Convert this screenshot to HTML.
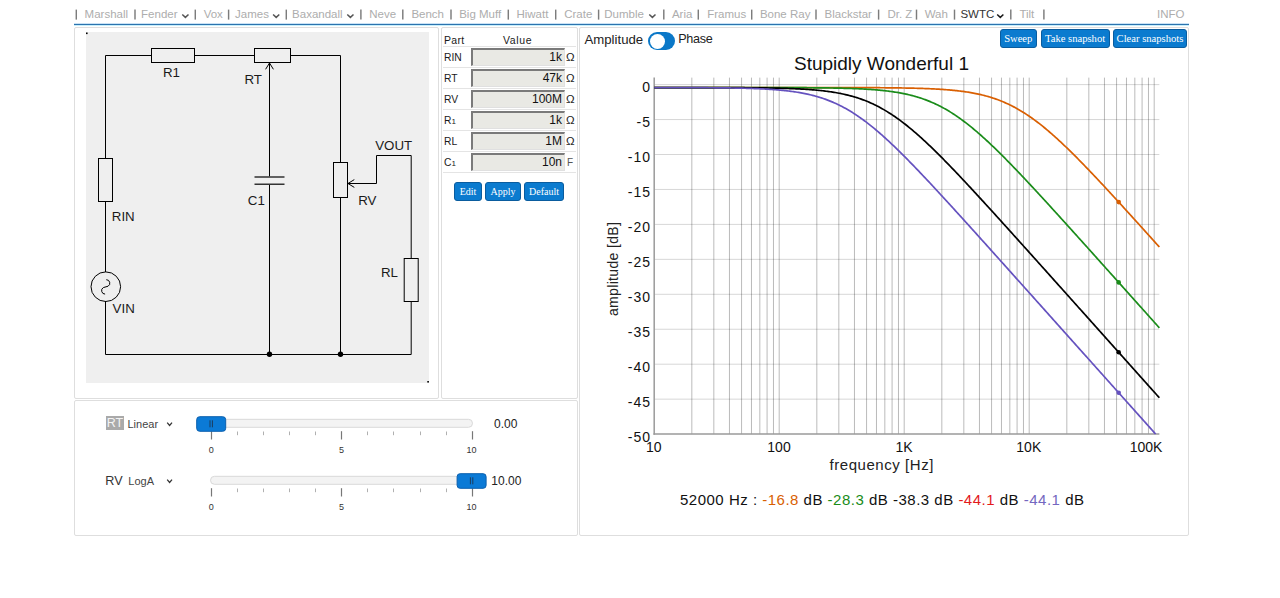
<!DOCTYPE html>
<html><head><meta charset="utf-8"><title>SWTC</title>
<style>
*{box-sizing:border-box;margin:0;padding:0}
html,body{width:1280px;height:598px;overflow:hidden;background:#fff}
body{position:relative;font-family:"Liberation Sans",sans-serif;color:#222}
.a{position:absolute}
.nav{position:absolute;top:7px;font-size:11.5px;color:#adadad;white-space:nowrap;line-height:14px}
.sep{position:absolute;top:9.6px;width:1.4px;height:10px;background:#666}
.chev{position:absolute;top:11px;width:5px;height:5px;border-right:1.6px solid #555;border-bottom:1.6px solid #555;transform:rotate(45deg)}
.box{position:absolute;border:1px solid #dedede;border-radius:2px;background:#fff}
.btn{position:absolute;background:#0b7bcf;border:1px solid #0a5c9e;border-radius:3px;color:#fff;font-family:"Liberation Serif",serif;text-align:center;white-space:nowrap}
.tl{position:absolute;left:444px;font-size:10.3px;color:#1a1a1a;line-height:12px}
.inp{position:absolute;left:471px;width:94px;height:18px;background:#e9e9e4;border-style:solid;border-width:2px 1px 1px 2px;border-color:#7a7a7a #e0e0e0 #e0e0e0 #7a7a7a;font-size:12px;text-align:right;padding-right:2px;line-height:15px;color:#111}
.unit{position:absolute;left:566px;font-size:11.5px;color:#222;line-height:12px}
.hr{position:absolute;left:443px;width:133px;height:1px;background:#e4e4e4}
</style></head><body>
<div class="nav" style="left:84.6px;color:#adadad">Marshall</div>
<div class="nav" style="left:141.1px;color:#adadad">Fender</div>
<div class="nav" style="left:203.7px;color:#adadad">Vox</div>
<div class="nav" style="left:235.1px;color:#adadad">James</div>
<div class="nav" style="left:292.1px;color:#adadad">Baxandall</div>
<div class="nav" style="left:369.2px;color:#adadad">Neve</div>
<div class="nav" style="left:411.4px;color:#adadad">Bench</div>
<div class="nav" style="left:459.2px;color:#adadad">Big Muff</div>
<div class="nav" style="left:516.4px;color:#adadad">Hiwatt</div>
<div class="nav" style="left:564.2px;color:#adadad">Crate</div>
<div class="nav" style="left:604.3px;color:#adadad">Dumble</div>
<div class="nav" style="left:671.9px;color:#adadad">Aria</div>
<div class="nav" style="left:707.2px;color:#adadad">Framus</div>
<div class="nav" style="left:759.9px;color:#adadad">Bone Ray</div>
<div class="nav" style="left:824.6px;color:#adadad">Blackstar</div>
<div class="nav" style="left:887.4px;color:#adadad">Dr. Z</div>
<div class="nav" style="left:924.7px;color:#adadad">Wah</div>
<div class="nav" style="left:960.4px;color:#333">SWTC</div>
<div class="nav" style="left:1019.4px;color:#adadad">Tilt</div>
<div class="nav" style="left:1157px;color:#adadad">INFO</div>
<div class="a" style="left:74px;top:23px;width:1115px;height:3px;background:linear-gradient(#c9e2f5 0,#c9e2f5 1px,#2c73ae 1px,#2c73ae 2px,#c6eefb 2px)"></div>
<div class="box" style="left:74px;top:27px;width:365px;height:372px"></div>
<div class="box" style="left:441px;top:27px;width:137px;height:372px"></div>
<div class="box" style="left:74px;top:400px;width:504px;height:136px"></div>
<div class="box" style="left:579px;top:27px;width:610px;height:509px"></div>
<div class="tl" style="top:34px;font-size:10.5px;letter-spacing:0.3px">Part</div><div class="tl" style="top:34px;left:503px;font-size:10.5px;letter-spacing:0.6px">Value</div>
<div class="hr" style="top:46px"></div>
<div class="tl" style="top:52px">RIN</div>
<div class="inp" style="top:48px">1k</div>
<div class="unit" style="top:51px;">Ω</div>
<div class="hr" style="top:67px"></div>
<div class="tl" style="top:73px">RT</div>
<div class="inp" style="top:69px">47k</div>
<div class="unit" style="top:72px;">Ω</div>
<div class="hr" style="top:88px"></div>
<div class="tl" style="top:94px">RV</div>
<div class="inp" style="top:90px">100M</div>
<div class="unit" style="top:93px;">Ω</div>
<div class="hr" style="top:109px"></div>
<div class="tl" style="top:115px">R<span style="font-size:8px">1</span></div>
<div class="inp" style="top:111px">1k</div>
<div class="unit" style="top:114px;">Ω</div>
<div class="hr" style="top:130px"></div>
<div class="tl" style="top:136px">RL</div>
<div class="inp" style="top:132px">1M</div>
<div class="unit" style="top:135px;">Ω</div>
<div class="hr" style="top:151px"></div>
<div class="tl" style="top:157px">C<span style="font-size:8px">1</span></div>
<div class="inp" style="top:153px">10n</div>
<div class="unit" style="top:156px;font-size:10px;color:#555;left:567px;top:157px">F</div>
<div class="hr" style="top:172px"></div>
<div class="btn" style="left:454px;top:182px;width:28px;height:19px;font-size:10px;line-height:17px">Edit</div>
<div class="btn" style="left:485px;top:182px;width:36px;height:19px;font-size:10px;line-height:17px">Apply</div>
<div class="btn" style="left:524px;top:182px;width:40px;height:19px;font-size:10px;line-height:17px">Default</div>
<div class="a" style="left:106px;top:416px;width:18px;height:14px;background:#aaa;color:#f4f4f4;font-size:12.5px;line-height:14px;text-align:center">RT</div>
<div class="a" style="left:127.5px;top:417.5px;font-size:11px;color:#444;line-height:13px">Linear</div>
<div class="a" style="left:494px;top:416.5px;font-size:12px;color:#222;line-height:14px">0.00</div>
<div class="a" style="left:105.3px;top:474px;font-size:12.6px;color:#333;line-height:15px">RV</div>
<div class="a" style="left:128.3px;top:474.5px;font-size:11px;color:#444;line-height:13px">LogA</div>
<div class="a" style="left:491.3px;top:473.5px;font-size:12px;color:#222;line-height:14px">10.00</div>

<div class="a" style="left:584.5px;top:31.5px;font-size:13.2px;color:#222;line-height:15px">Amplitude</div>
<div class="a" style="left:647.6px;top:31.8px;width:27.4px;height:18.6px;border-radius:9.3px;background:#0b78c8"></div>
<div class="a" style="left:649.6px;top:33.5px;width:15.4px;height:15.4px;border-radius:50%;background:#fff"></div>
<div class="a" style="left:678.2px;top:31.5px;font-size:12.6px;letter-spacing:-0.3px;color:#222;line-height:15px">Phase</div>
<div class="btn" style="left:999.5px;top:29.3px;width:37.5px;height:18.5px;font-size:10.6px;line-height:18px">Sweep</div>
<div class="btn" style="left:1040.6px;top:29.3px;width:69px;height:18.5px;font-size:10.6px;line-height:18px">Take snapshot</div>
<div class="btn" style="left:1113px;top:29.3px;width:74px;height:18.5px;font-size:10.6px;line-height:18px">Clear snapshots</div>
<div class="a" style="left:794px;top:53px;font-size:19px;color:#111;line-height:22px;white-space:nowrap">Stupidly Wonderful 1</div>
<div class="a" style="left:680px;top:491px;font-size:15px;letter-spacing:0.5px;color:#111;line-height:18px;white-space:nowrap">52000 Hz : <span style="color:#d95f02">-16.8</span> dB <span style="color:#1a8c1a">-28.3</span> dB -38.3 dB <span style="color:#e31a1c">-44.1</span> dB <span style="color:#7467c0">-44.1</span> dB</div>

<svg class="a" style="left:0;top:0" width="1280" height="598" viewBox="0 0 1280 598">
<g stroke="#7c7c7c" stroke-width="1.45"><line x1="76.3" y1="9.6" x2="76.3" y2="19.6"/><line x1="135.0" y1="9.6" x2="135.0" y2="19.6"/><line x1="195.3" y1="9.6" x2="195.3" y2="19.6"/><line x1="228.6" y1="9.6" x2="228.6" y2="19.6"/><line x1="286.3" y1="9.6" x2="286.3" y2="19.6"/><line x1="360.9" y1="9.6" x2="360.9" y2="19.6"/><line x1="402.8" y1="9.6" x2="402.8" y2="19.6"/><line x1="451.0" y1="9.6" x2="451.0" y2="19.6"/><line x1="508.3" y1="9.6" x2="508.3" y2="19.6"/><line x1="555.7" y1="9.6" x2="555.7" y2="19.6"/><line x1="598.6" y1="9.6" x2="598.6" y2="19.6"/><line x1="663.8" y1="9.6" x2="663.8" y2="19.6"/><line x1="698.3" y1="9.6" x2="698.3" y2="19.6"/><line x1="751.7" y1="9.6" x2="751.7" y2="19.6"/><line x1="816.0" y1="9.6" x2="816.0" y2="19.6"/><line x1="878.6" y1="9.6" x2="878.6" y2="19.6"/><line x1="916.5" y1="9.6" x2="916.5" y2="19.6"/><line x1="954.5" y1="9.6" x2="954.5" y2="19.6"/><line x1="1010.8" y1="9.6" x2="1010.8" y2="19.6"/><line x1="1043.9" y1="9.6" x2="1043.9" y2="19.6"/></g><g stroke-width="1.5" fill="none"><path stroke="#555" d="M182.3,14.5 L185.4,17.4 L188.5,14.5"/><path stroke="#555" d="M273.1,14.5 L276.2,17.4 L279.3,14.5"/><path stroke="#555" d="M347.3,14.5 L350.4,17.4 L353.5,14.5"/><path stroke="#555" d="M649.3,14.5 L652.4,17.4 L655.5,14.5"/><path stroke="#1a1a1a" d="M997.2,14.5 L1000.3,17.4 L1003.4,14.5"/></g><g stroke="#333" stroke-width="1.3" fill="none"><path d="M167.2,422.6 L169.6,425.4 L172,422.6"/><path d="M167.2,479.6 L169.6,482.4 L172,479.6"/></g>

<rect x="86" y="32" width="343" height="351" fill="#efefef"/>
<rect x="86" y="32.5" width="1.6" height="1.6" fill="#000"/>
<rect x="427.3" y="381" width="1.6" height="1.6" fill="#000"/>
<g stroke="#000" stroke-width="1" fill="none">
<path d="M105.5,158.5 V55.5 H151.5 M194.5,55.5 H254.5 M290.5,55.5 H340.5 V162.5"/>
<path d="M105.5,201.5 V272"/>
<path d="M105.5,301 V354.5 H411.2 V301.5"/>
<path d="M340.5,197.5 V354.5"/>
<path d="M269.5,63 V176.5 M269.5,184.5 V354.5"/>
<path d="M411.2,258.5 V155.5 H376.5 V183.5 H348"/>
<rect x="151.5" y="48.5" width="43" height="14"/>
<rect x="254.5" y="48.5" width="36" height="14"/>
<rect x="98.5" y="158.5" width="14" height="43"/>
<rect x="333.5" y="162.5" width="14" height="35"/>
<rect x="404.2" y="258.5" width="14" height="43"/>
<circle cx="105.8" cy="286.7" r="14.8"/>
<path d="M265.6,69.3 L269.5,63 L273.4,69.3"/>
<path d="M354.3,179.6 L348,183.5 L354.3,187.4"/>
<path d="M106.3,279.7 A3.5,3.5 0 0 1 108.05,286.23 L103.35,287.57 A3.5,3.5 0 0 0 105.1,294.1"/>
</g>
<g stroke="#333" stroke-width="1.6">
<path d="M254.5,177 H284.5 M254.5,184.3 H284.5"/>
</g>
<circle cx="269.5" cy="354.3" r="2.7" fill="#000"/>
<circle cx="340.5" cy="354.3" r="2.7" fill="#000"/>
<g font-family="Liberation Sans, sans-serif" font-size="13.3" fill="#1a1a1a">
<text x="163" y="77">R1</text>
<text x="244.4" y="83.6">RT</text>
<text x="247.8" y="204.9">C1</text>
<text x="358.2" y="204.6">RV</text>
<text x="375.2" y="150.2">VOUT</text>
<text x="111.8" y="221.1">RIN</text>
<text x="112.6" y="313.2">VIN</text>
<text x="381" y="277.3">RL</text>
</g>


<g class="grid"><line x1="691.83" y1="77.61" x2="691.83" y2="434.10" stroke="#000" stroke-opacity="0.27" stroke-width="1"/>
<line x1="713.84" y1="77.61" x2="713.84" y2="434.10" stroke="#000" stroke-opacity="0.27" stroke-width="1"/>
<line x1="729.46" y1="77.61" x2="729.46" y2="434.10" stroke="#000" stroke-opacity="0.27" stroke-width="1"/>
<line x1="741.57" y1="77.61" x2="741.57" y2="434.10" stroke="#000" stroke-opacity="0.27" stroke-width="1"/>
<line x1="751.47" y1="77.61" x2="751.47" y2="434.10" stroke="#000" stroke-opacity="0.27" stroke-width="1"/>
<line x1="759.84" y1="77.61" x2="759.84" y2="434.10" stroke="#000" stroke-opacity="0.27" stroke-width="1"/>
<line x1="767.09" y1="77.61" x2="767.09" y2="434.10" stroke="#000" stroke-opacity="0.27" stroke-width="1"/>
<line x1="773.48" y1="77.61" x2="773.48" y2="434.10" stroke="#000" stroke-opacity="0.27" stroke-width="1"/>
<line x1="779.20" y1="77.61" x2="779.20" y2="434.10" stroke="#000" stroke-opacity="0.27" stroke-width="1"/>
<line x1="816.83" y1="77.61" x2="816.83" y2="434.10" stroke="#000" stroke-opacity="0.27" stroke-width="1"/>
<line x1="838.84" y1="77.61" x2="838.84" y2="434.10" stroke="#000" stroke-opacity="0.27" stroke-width="1"/>
<line x1="854.46" y1="77.61" x2="854.46" y2="434.10" stroke="#000" stroke-opacity="0.27" stroke-width="1"/>
<line x1="866.57" y1="77.61" x2="866.57" y2="434.10" stroke="#000" stroke-opacity="0.27" stroke-width="1"/>
<line x1="876.47" y1="77.61" x2="876.47" y2="434.10" stroke="#000" stroke-opacity="0.27" stroke-width="1"/>
<line x1="884.84" y1="77.61" x2="884.84" y2="434.10" stroke="#000" stroke-opacity="0.27" stroke-width="1"/>
<line x1="892.09" y1="77.61" x2="892.09" y2="434.10" stroke="#000" stroke-opacity="0.27" stroke-width="1"/>
<line x1="898.48" y1="77.61" x2="898.48" y2="434.10" stroke="#000" stroke-opacity="0.27" stroke-width="1"/>
<line x1="904.20" y1="77.61" x2="904.20" y2="434.10" stroke="#000" stroke-opacity="0.27" stroke-width="1"/>
<line x1="941.83" y1="77.61" x2="941.83" y2="434.10" stroke="#000" stroke-opacity="0.27" stroke-width="1"/>
<line x1="963.84" y1="77.61" x2="963.84" y2="434.10" stroke="#000" stroke-opacity="0.27" stroke-width="1"/>
<line x1="979.46" y1="77.61" x2="979.46" y2="434.10" stroke="#000" stroke-opacity="0.27" stroke-width="1"/>
<line x1="991.57" y1="77.61" x2="991.57" y2="434.10" stroke="#000" stroke-opacity="0.27" stroke-width="1"/>
<line x1="1001.47" y1="77.61" x2="1001.47" y2="434.10" stroke="#000" stroke-opacity="0.27" stroke-width="1"/>
<line x1="1009.84" y1="77.61" x2="1009.84" y2="434.10" stroke="#000" stroke-opacity="0.27" stroke-width="1"/>
<line x1="1017.09" y1="77.61" x2="1017.09" y2="434.10" stroke="#000" stroke-opacity="0.27" stroke-width="1"/>
<line x1="1023.48" y1="77.61" x2="1023.48" y2="434.10" stroke="#000" stroke-opacity="0.27" stroke-width="1"/>
<line x1="1029.20" y1="77.61" x2="1029.20" y2="434.10" stroke="#000" stroke-opacity="0.27" stroke-width="1"/>
<line x1="1066.83" y1="77.61" x2="1066.83" y2="434.10" stroke="#000" stroke-opacity="0.27" stroke-width="1"/>
<line x1="1088.84" y1="77.61" x2="1088.84" y2="434.10" stroke="#000" stroke-opacity="0.27" stroke-width="1"/>
<line x1="1104.46" y1="77.61" x2="1104.46" y2="434.10" stroke="#000" stroke-opacity="0.27" stroke-width="1"/>
<line x1="1116.57" y1="77.61" x2="1116.57" y2="434.10" stroke="#000" stroke-opacity="0.27" stroke-width="1"/>
<line x1="1126.47" y1="77.61" x2="1126.47" y2="434.10" stroke="#000" stroke-opacity="0.27" stroke-width="1"/>
<line x1="1134.84" y1="77.61" x2="1134.84" y2="434.10" stroke="#000" stroke-opacity="0.27" stroke-width="1"/>
<line x1="1142.09" y1="77.61" x2="1142.09" y2="434.10" stroke="#000" stroke-opacity="0.27" stroke-width="1"/>
<line x1="1148.48" y1="77.61" x2="1148.48" y2="434.10" stroke="#000" stroke-opacity="0.27" stroke-width="1"/>
<line x1="1154.20" y1="77.61" x2="1154.20" y2="434.10" stroke="#000" stroke-opacity="0.27" stroke-width="1"/>
<line x1="654.20" y1="84.60" x2="1159.37" y2="84.60" stroke="#000" stroke-opacity="0.16" stroke-width="1"/>
<line x1="654.20" y1="119.55" x2="1159.37" y2="119.55" stroke="#000" stroke-opacity="0.16" stroke-width="1"/>
<line x1="654.20" y1="154.50" x2="1159.37" y2="154.50" stroke="#000" stroke-opacity="0.16" stroke-width="1"/>
<line x1="654.20" y1="189.45" x2="1159.37" y2="189.45" stroke="#000" stroke-opacity="0.16" stroke-width="1"/>
<line x1="654.20" y1="224.40" x2="1159.37" y2="224.40" stroke="#000" stroke-opacity="0.16" stroke-width="1"/>
<line x1="654.20" y1="259.35" x2="1159.37" y2="259.35" stroke="#000" stroke-opacity="0.16" stroke-width="1"/>
<line x1="654.20" y1="294.30" x2="1159.37" y2="294.30" stroke="#000" stroke-opacity="0.16" stroke-width="1"/>
<line x1="654.20" y1="329.25" x2="1159.37" y2="329.25" stroke="#000" stroke-opacity="0.16" stroke-width="1"/>
<line x1="654.20" y1="364.20" x2="1159.37" y2="364.20" stroke="#000" stroke-opacity="0.16" stroke-width="1"/>
<line x1="654.20" y1="399.15" x2="1159.37" y2="399.15" stroke="#000" stroke-opacity="0.16" stroke-width="1"/></g>
<line x1="654.20" y1="77.61" x2="654.20" y2="434.85" stroke="#9a9a9a" stroke-width="1.5"/>
<line x1="653.45" y1="434.10" x2="1159.37" y2="434.10" stroke="#9a9a9a" stroke-width="1.5"/>
<g class="curves"><path d="M654.20,87.53 L655.47,87.53 L656.73,87.53 L658.00,87.53 L659.26,87.53 L660.53,87.53 L661.80,87.53 L663.06,87.53 L664.33,87.53 L665.59,87.53 L666.86,87.53 L668.13,87.53 L669.39,87.53 L670.66,87.53 L671.93,87.53 L673.19,87.53 L674.46,87.53 L675.72,87.53 L676.99,87.53 L678.26,87.53 L679.52,87.53 L680.79,87.53 L682.05,87.53 L683.32,87.53 L684.59,87.53 L685.85,87.53 L687.12,87.53 L688.38,87.53 L689.65,87.53 L690.92,87.53 L692.18,87.53 L693.45,87.53 L694.72,87.53 L695.98,87.53 L697.25,87.53 L698.51,87.53 L699.78,87.53 L701.05,87.53 L702.31,87.53 L703.58,87.53 L704.84,87.53 L706.11,87.53 L707.38,87.53 L708.64,87.53 L709.91,87.53 L711.17,87.53 L712.44,87.53 L713.71,87.53 L714.97,87.53 L716.24,87.53 L717.51,87.53 L718.77,87.53 L720.04,87.53 L721.30,87.53 L722.57,87.53 L723.84,87.53 L725.10,87.53 L726.37,87.53 L727.63,87.53 L728.90,87.53 L730.17,87.53 L731.43,87.53 L732.70,87.53 L733.96,87.53 L735.23,87.53 L736.50,87.53 L737.76,87.53 L739.03,87.53 L740.29,87.53 L741.56,87.53 L742.83,87.53 L744.09,87.53 L745.36,87.53 L746.63,87.53 L747.89,87.53 L749.16,87.53 L750.42,87.53 L751.69,87.53 L752.96,87.53 L754.22,87.53 L755.49,87.53 L756.75,87.53 L758.02,87.53 L759.29,87.54 L760.55,87.54 L761.82,87.54 L763.08,87.54 L764.35,87.54 L765.62,87.54 L766.88,87.54 L768.15,87.54 L769.42,87.54 L770.68,87.54 L771.95,87.54 L773.21,87.54 L774.48,87.54 L775.75,87.54 L777.01,87.54 L778.28,87.54 L779.54,87.54 L780.81,87.54 L782.08,87.54 L783.34,87.54 L784.61,87.54 L785.87,87.54 L787.14,87.54 L788.41,87.54 L789.67,87.54 L790.94,87.54 L792.20,87.54 L793.47,87.54 L794.74,87.54 L796.00,87.54 L797.27,87.54 L798.54,87.54 L799.80,87.54 L801.07,87.54 L802.33,87.54 L803.60,87.54 L804.87,87.55 L806.13,87.55 L807.40,87.55 L808.66,87.55 L809.93,87.55 L811.20,87.55 L812.46,87.55 L813.73,87.55 L814.99,87.55 L816.26,87.55 L817.53,87.55 L818.79,87.55 L820.06,87.55 L821.33,87.56 L822.59,87.56 L823.86,87.56 L825.12,87.56 L826.39,87.56 L827.66,87.56 L828.92,87.56 L830.19,87.56 L831.45,87.57 L832.72,87.57 L833.99,87.57 L835.25,87.57 L836.52,87.57 L837.78,87.57 L839.05,87.58 L840.32,87.58 L841.58,87.58 L842.85,87.58 L844.12,87.58 L845.38,87.59 L846.65,87.59 L847.91,87.59 L849.18,87.60 L850.45,87.60 L851.71,87.60 L852.98,87.61 L854.24,87.61 L855.51,87.61 L856.78,87.62 L858.04,87.62 L859.31,87.62 L860.57,87.63 L861.84,87.63 L863.11,87.64 L864.37,87.64 L865.64,87.65 L866.90,87.65 L868.17,87.66 L869.44,87.67 L870.70,87.67 L871.97,87.68 L873.24,87.68 L874.50,87.69 L875.77,87.70 L877.03,87.71 L878.30,87.72 L879.57,87.72 L880.83,87.73 L882.10,87.74 L883.36,87.75 L884.63,87.76 L885.90,87.78 L887.16,87.79 L888.43,87.80 L889.69,87.81 L890.96,87.82 L892.23,87.84 L893.49,87.85 L894.76,87.87 L896.03,87.88 L897.29,87.90 L898.56,87.92 L899.82,87.94 L901.09,87.96 L902.36,87.98 L903.62,88.00 L904.89,88.02 L906.15,88.04 L907.42,88.07 L908.69,88.09 L909.95,88.12 L911.22,88.14 L912.48,88.17 L913.75,88.20 L915.02,88.24 L916.28,88.27 L917.55,88.30 L918.81,88.34 L920.08,88.38 L921.35,88.42 L922.61,88.46 L923.88,88.50 L925.15,88.55 L926.41,88.60 L927.68,88.65 L928.94,88.70 L930.21,88.75 L931.48,88.81 L932.74,88.87 L934.01,88.93 L935.27,89.00 L936.54,89.07 L937.81,89.14 L939.07,89.21 L940.34,89.29 L941.60,89.37 L942.87,89.46 L944.14,89.54 L945.40,89.64 L946.67,89.73 L947.94,89.84 L949.20,89.94 L950.47,90.05 L951.73,90.17 L953.00,90.29 L954.27,90.41 L955.53,90.54 L956.80,90.68 L958.06,90.82 L959.33,90.97 L960.60,91.13 L961.86,91.29 L963.13,91.45 L964.39,91.63 L965.66,91.81 L966.93,92.00 L968.19,92.20 L969.46,92.41 L970.73,92.62 L971.99,92.84 L973.26,93.07 L974.52,93.32 L975.79,93.57 L977.06,93.83 L978.32,94.10 L979.59,94.38 L980.85,94.67 L982.12,94.97 L983.39,95.28 L984.65,95.61 L985.92,95.95 L987.18,96.29 L988.45,96.66 L989.72,97.03 L990.98,97.42 L992.25,97.82 L993.51,98.23 L994.78,98.66 L996.05,99.10 L997.31,99.56 L998.58,100.03 L999.85,100.51 L1001.11,101.01 L1002.38,101.53 L1003.64,102.06 L1004.91,102.60 L1006.18,103.16 L1007.44,103.74 L1008.71,104.34 L1009.97,104.95 L1011.24,105.57 L1012.51,106.22 L1013.77,106.87 L1015.04,107.55 L1016.30,108.24 L1017.57,108.95 L1018.84,109.68 L1020.10,110.42 L1021.37,111.17 L1022.64,111.95 L1023.90,112.74 L1025.17,113.55 L1026.43,114.37 L1027.70,115.21 L1028.97,116.06 L1030.23,116.93 L1031.50,117.82 L1032.76,118.72 L1034.03,119.64 L1035.30,120.57 L1036.56,121.52 L1037.83,122.48 L1039.09,123.45 L1040.36,124.44 L1041.63,125.45 L1042.89,126.46 L1044.16,127.49 L1045.43,128.53 L1046.69,129.59 L1047.96,130.66 L1049.22,131.74 L1050.49,132.83 L1051.76,133.93 L1053.02,135.05 L1054.29,136.17 L1055.55,137.31 L1056.82,138.45 L1058.09,139.61 L1059.35,140.78 L1060.62,141.95 L1061.88,143.14 L1063.15,144.33 L1064.42,145.53 L1065.68,146.74 L1066.95,147.96 L1068.21,149.19 L1069.48,150.42 L1070.75,151.66 L1072.01,152.91 L1073.28,154.17 L1074.55,155.43 L1075.81,156.70 L1077.08,157.97 L1078.34,159.25 L1079.61,160.54 L1080.88,161.83 L1082.14,163.12 L1083.41,164.42 L1084.67,165.73 L1085.94,167.04 L1087.21,168.36 L1088.47,169.67 L1089.74,171.00 L1091.00,172.33 L1092.27,173.66 L1093.54,174.99 L1094.80,176.33 L1096.07,177.67 L1097.34,179.02 L1098.60,180.36 L1099.87,181.72 L1101.13,183.07 L1102.40,184.43 L1103.67,185.78 L1104.93,187.15 L1106.20,188.51 L1107.46,189.88 L1108.73,191.25 L1110.00,192.62 L1111.26,193.99 L1112.53,195.36 L1113.79,196.74 L1115.06,198.12 L1116.33,199.50 L1117.59,200.88 L1118.86,202.26 L1120.12,203.65 L1121.39,205.03 L1122.66,206.42 L1123.92,207.81 L1125.19,209.20 L1126.46,210.59 L1127.72,211.98 L1128.99,213.37 L1130.25,214.77 L1131.52,216.16 L1132.79,217.56 L1134.05,218.95 L1135.32,220.35 L1136.58,221.75 L1137.85,223.15 L1139.12,224.55 L1140.38,225.95 L1141.65,227.35 L1142.91,228.76 L1144.18,230.16 L1145.45,231.56 L1146.71,232.97 L1147.98,234.37 L1149.25,235.77 L1150.51,237.18 L1151.78,238.59 L1153.04,239.99 L1154.31,241.40 L1155.58,242.81 L1156.84,244.21 L1158.11,245.62 L1159.37,247.03" fill="none" stroke="#d95f02" stroke-width="1.7" stroke-linejoin="round"/>
<path d="M654.20,87.53 L655.47,87.53 L656.73,87.53 L658.00,87.53 L659.26,87.53 L660.53,87.53 L661.80,87.53 L663.06,87.53 L664.33,87.53 L665.59,87.53 L666.86,87.53 L668.13,87.53 L669.39,87.53 L670.66,87.53 L671.93,87.53 L673.19,87.53 L674.46,87.53 L675.72,87.53 L676.99,87.53 L678.26,87.53 L679.52,87.53 L680.79,87.53 L682.05,87.53 L683.32,87.53 L684.59,87.53 L685.85,87.53 L687.12,87.54 L688.38,87.54 L689.65,87.54 L690.92,87.54 L692.18,87.54 L693.45,87.54 L694.72,87.54 L695.98,87.54 L697.25,87.54 L698.51,87.54 L699.78,87.54 L701.05,87.54 L702.31,87.54 L703.58,87.54 L704.84,87.54 L706.11,87.54 L707.38,87.54 L708.64,87.54 L709.91,87.54 L711.17,87.54 L712.44,87.54 L713.71,87.54 L714.97,87.54 L716.24,87.54 L717.51,87.54 L718.77,87.54 L720.04,87.54 L721.30,87.54 L722.57,87.54 L723.84,87.54 L725.10,87.54 L726.37,87.54 L727.63,87.54 L728.90,87.54 L730.17,87.54 L731.43,87.54 L732.70,87.55 L733.96,87.55 L735.23,87.55 L736.50,87.55 L737.76,87.55 L739.03,87.55 L740.29,87.55 L741.56,87.55 L742.83,87.55 L744.09,87.55 L745.36,87.55 L746.63,87.55 L747.89,87.55 L749.16,87.56 L750.42,87.56 L751.69,87.56 L752.96,87.56 L754.22,87.56 L755.49,87.56 L756.75,87.56 L758.02,87.56 L759.29,87.57 L760.55,87.57 L761.82,87.57 L763.08,87.57 L764.35,87.57 L765.62,87.57 L766.88,87.58 L768.15,87.58 L769.42,87.58 L770.68,87.58 L771.95,87.59 L773.21,87.59 L774.48,87.59 L775.75,87.59 L777.01,87.60 L778.28,87.60 L779.54,87.60 L780.81,87.61 L782.08,87.61 L783.34,87.61 L784.61,87.62 L785.87,87.62 L787.14,87.62 L788.41,87.63 L789.67,87.63 L790.94,87.64 L792.20,87.64 L793.47,87.65 L794.74,87.65 L796.00,87.66 L797.27,87.67 L798.54,87.67 L799.80,87.68 L801.07,87.69 L802.33,87.69 L803.60,87.70 L804.87,87.71 L806.13,87.72 L807.40,87.73 L808.66,87.74 L809.93,87.75 L811.20,87.76 L812.46,87.77 L813.73,87.78 L814.99,87.79 L816.26,87.80 L817.53,87.81 L818.79,87.83 L820.06,87.84 L821.33,87.86 L822.59,87.87 L823.86,87.89 L825.12,87.90 L826.39,87.92 L827.66,87.94 L828.92,87.96 L830.19,87.98 L831.45,88.00 L832.72,88.02 L833.99,88.05 L835.25,88.07 L836.52,88.10 L837.78,88.12 L839.05,88.15 L840.32,88.18 L841.58,88.21 L842.85,88.24 L844.12,88.28 L845.38,88.31 L846.65,88.35 L847.91,88.39 L849.18,88.43 L850.45,88.47 L851.71,88.51 L852.98,88.56 L854.24,88.61 L855.51,88.66 L856.78,88.71 L858.04,88.76 L859.31,88.82 L860.57,88.88 L861.84,88.94 L863.11,89.01 L864.37,89.08 L865.64,89.15 L866.90,89.23 L868.17,89.30 L869.44,89.39 L870.70,89.47 L871.97,89.56 L873.24,89.66 L874.50,89.75 L875.77,89.86 L877.03,89.96 L878.30,90.07 L879.57,90.19 L880.83,90.31 L882.10,90.44 L883.36,90.57 L884.63,90.71 L885.90,90.85 L887.16,91.00 L888.43,91.16 L889.69,91.32 L890.96,91.49 L892.23,91.66 L893.49,91.85 L894.76,92.04 L896.03,92.24 L897.29,92.45 L898.56,92.66 L899.82,92.89 L901.09,93.12 L902.36,93.36 L903.62,93.62 L904.89,93.88 L906.15,94.15 L907.42,94.43 L908.69,94.73 L909.95,95.03 L911.22,95.35 L912.48,95.67 L913.75,96.01 L915.02,96.36 L916.28,96.73 L917.55,97.10 L918.81,97.49 L920.08,97.90 L921.35,98.31 L922.61,98.74 L923.88,99.19 L925.15,99.64 L926.41,100.12 L927.68,100.61 L928.94,101.11 L930.21,101.63 L931.48,102.16 L932.74,102.71 L934.01,103.28 L935.27,103.86 L936.54,104.45 L937.81,105.07 L939.07,105.70 L940.34,106.34 L941.60,107.00 L942.87,107.68 L944.14,108.38 L945.40,109.09 L946.67,109.82 L947.94,110.56 L949.20,111.32 L950.47,112.10 L951.73,112.89 L953.00,113.70 L954.27,114.53 L955.53,115.37 L956.80,116.23 L958.06,117.10 L959.33,117.99 L960.60,118.90 L961.86,119.82 L963.13,120.75 L964.39,121.70 L965.66,122.66 L966.93,123.64 L968.19,124.63 L969.46,125.64 L970.73,126.66 L971.99,127.69 L973.26,128.74 L974.52,129.79 L975.79,130.87 L977.06,131.95 L978.32,133.04 L979.59,134.15 L980.85,135.26 L982.12,136.39 L983.39,137.53 L984.65,138.68 L985.92,139.84 L987.18,141.00 L988.45,142.18 L989.72,143.37 L990.98,144.56 L992.25,145.77 L993.51,146.98 L994.78,148.20 L996.05,149.43 L997.31,150.66 L998.58,151.90 L999.85,153.15 L1001.11,154.41 L1002.38,155.67 L1003.64,156.94 L1004.91,158.22 L1006.18,159.50 L1007.44,160.78 L1008.71,162.08 L1009.97,163.37 L1011.24,164.68 L1012.51,165.98 L1013.77,167.29 L1015.04,168.61 L1016.30,169.93 L1017.57,171.25 L1018.84,172.58 L1020.10,173.91 L1021.37,175.25 L1022.64,176.59 L1023.90,177.93 L1025.17,179.28 L1026.43,180.63 L1027.70,181.98 L1028.97,183.33 L1030.23,184.69 L1031.50,186.05 L1032.76,187.41 L1034.03,188.77 L1035.30,190.14 L1036.56,191.51 L1037.83,192.88 L1039.09,194.25 L1040.36,195.63 L1041.63,197.00 L1042.89,198.38 L1044.16,199.76 L1045.43,201.15 L1046.69,202.53 L1047.96,203.91 L1049.22,205.30 L1050.49,206.69 L1051.76,208.08 L1053.02,209.47 L1054.29,210.86 L1055.55,212.25 L1056.82,213.64 L1058.09,215.04 L1059.35,216.43 L1060.62,217.83 L1061.88,219.22 L1063.15,220.62 L1064.42,222.02 L1065.68,223.42 L1066.95,224.82 L1068.21,226.22 L1069.48,227.62 L1070.75,229.03 L1072.01,230.43 L1073.28,231.83 L1074.55,233.24 L1075.81,234.64 L1077.08,236.05 L1078.34,237.45 L1079.61,238.86 L1080.88,240.26 L1082.14,241.67 L1083.41,243.08 L1084.67,244.49 L1085.94,245.89 L1087.21,247.30 L1088.47,248.71 L1089.74,250.12 L1091.00,251.53 L1092.27,252.94 L1093.54,254.35 L1094.80,255.76 L1096.07,257.17 L1097.34,258.58 L1098.60,259.99 L1099.87,261.40 L1101.13,262.82 L1102.40,264.23 L1103.67,265.64 L1104.93,267.05 L1106.20,268.46 L1107.46,269.88 L1108.73,271.29 L1110.00,272.70 L1111.26,274.11 L1112.53,275.53 L1113.79,276.94 L1115.06,278.35 L1116.33,279.77 L1117.59,281.18 L1118.86,282.59 L1120.12,284.01 L1121.39,285.42 L1122.66,286.84 L1123.92,288.25 L1125.19,289.66 L1126.46,291.08 L1127.72,292.49 L1128.99,293.91 L1130.25,295.32 L1131.52,296.74 L1132.79,298.15 L1134.05,299.57 L1135.32,300.98 L1136.58,302.40 L1137.85,303.81 L1139.12,305.23 L1140.38,306.64 L1141.65,308.05 L1142.91,309.47 L1144.18,310.89 L1145.45,312.30 L1146.71,313.72 L1147.98,315.13 L1149.25,316.55 L1150.51,317.96 L1151.78,319.38 L1153.04,320.79 L1154.31,322.21 L1155.58,323.62 L1156.84,325.04 L1158.11,326.45 L1159.37,327.87" fill="none" stroke="#1a8c1a" stroke-width="1.7" stroke-linejoin="round"/>
<path d="M654.20,87.54 L655.47,87.54 L656.73,87.54 L658.00,87.54 L659.26,87.54 L660.53,87.54 L661.80,87.54 L663.06,87.54 L664.33,87.54 L665.59,87.54 L666.86,87.54 L668.13,87.54 L669.39,87.54 L670.66,87.55 L671.93,87.55 L673.19,87.55 L674.46,87.55 L675.72,87.55 L676.99,87.55 L678.26,87.55 L679.52,87.55 L680.79,87.55 L682.05,87.55 L683.32,87.55 L684.59,87.55 L685.85,87.55 L687.12,87.56 L688.38,87.56 L689.65,87.56 L690.92,87.56 L692.18,87.56 L693.45,87.56 L694.72,87.56 L695.98,87.56 L697.25,87.57 L698.51,87.57 L699.78,87.57 L701.05,87.57 L702.31,87.57 L703.58,87.58 L704.84,87.58 L706.11,87.58 L707.38,87.58 L708.64,87.58 L709.91,87.59 L711.17,87.59 L712.44,87.59 L713.71,87.59 L714.97,87.60 L716.24,87.60 L717.51,87.60 L718.77,87.61 L720.04,87.61 L721.30,87.61 L722.57,87.62 L723.84,87.62 L725.10,87.63 L726.37,87.63 L727.63,87.64 L728.90,87.64 L730.17,87.65 L731.43,87.65 L732.70,87.66 L733.96,87.66 L735.23,87.67 L736.50,87.68 L737.76,87.68 L739.03,87.69 L740.29,87.70 L741.56,87.70 L742.83,87.71 L744.09,87.72 L745.36,87.73 L746.63,87.74 L747.89,87.75 L749.16,87.76 L750.42,87.77 L751.69,87.78 L752.96,87.79 L754.22,87.81 L755.49,87.82 L756.75,87.83 L758.02,87.85 L759.29,87.86 L760.55,87.88 L761.82,87.89 L763.08,87.91 L764.35,87.93 L765.62,87.95 L766.88,87.97 L768.15,87.99 L769.42,88.01 L770.68,88.03 L771.95,88.06 L773.21,88.08 L774.48,88.11 L775.75,88.13 L777.01,88.16 L778.28,88.19 L779.54,88.22 L780.81,88.26 L782.08,88.29 L783.34,88.32 L784.61,88.36 L785.87,88.40 L787.14,88.44 L788.41,88.48 L789.67,88.53 L790.94,88.58 L792.20,88.63 L793.47,88.68 L794.74,88.73 L796.00,88.79 L797.27,88.84 L798.54,88.91 L799.80,88.97 L801.07,89.04 L802.33,89.11 L803.60,89.18 L804.87,89.26 L806.13,89.34 L807.40,89.42 L808.66,89.51 L809.93,89.60 L811.20,89.69 L812.46,89.79 L813.73,89.90 L814.99,90.01 L816.26,90.12 L817.53,90.24 L818.79,90.36 L820.06,90.49 L821.33,90.62 L822.59,90.76 L823.86,90.91 L825.12,91.06 L826.39,91.22 L827.66,91.38 L828.92,91.56 L830.19,91.74 L831.45,91.92 L832.72,92.12 L833.99,92.32 L835.25,92.53 L836.52,92.75 L837.78,92.98 L839.05,93.22 L840.32,93.46 L841.58,93.72 L842.85,93.98 L844.12,94.26 L845.38,94.55 L846.65,94.84 L847.91,95.15 L849.18,95.47 L850.45,95.81 L851.71,96.15 L852.98,96.51 L854.24,96.87 L855.51,97.26 L856.78,97.65 L858.04,98.06 L859.31,98.48 L860.57,98.92 L861.84,99.37 L863.11,99.83 L864.37,100.31 L865.64,100.80 L866.90,101.31 L868.17,101.84 L869.44,102.38 L870.70,102.93 L871.97,103.50 L873.24,104.09 L874.50,104.69 L875.77,105.31 L877.03,105.95 L878.30,106.60 L879.57,107.27 L880.83,107.95 L882.10,108.66 L883.36,109.37 L884.63,110.11 L885.90,110.86 L887.16,111.63 L888.43,112.41 L889.69,113.21 L890.96,114.03 L892.23,114.86 L893.49,115.71 L894.76,116.57 L896.03,117.45 L897.29,118.35 L898.56,119.26 L899.82,120.18 L901.09,121.12 L902.36,122.08 L903.62,123.05 L904.89,124.03 L906.15,125.03 L907.42,126.04 L908.69,127.07 L909.95,128.10 L911.22,129.15 L912.48,130.22 L913.75,131.29 L915.02,132.38 L916.28,133.48 L917.55,134.59 L918.81,135.71 L920.08,136.84 L921.35,137.98 L922.61,139.13 L923.88,140.30 L925.15,141.47 L926.41,142.65 L927.68,143.84 L928.94,145.04 L930.21,146.24 L931.48,147.46 L932.74,148.68 L934.01,149.91 L935.27,151.15 L936.54,152.40 L937.81,153.65 L939.07,154.91 L940.34,156.17 L941.60,157.44 L942.87,158.72 L944.14,160.01 L945.40,161.29 L946.67,162.59 L947.94,163.89 L949.20,165.19 L950.47,166.50 L951.73,167.81 L953.00,169.13 L954.27,170.45 L955.53,171.78 L956.80,173.11 L958.06,174.44 L959.33,175.78 L960.60,177.12 L961.86,178.46 L963.13,179.81 L964.39,181.16 L965.66,182.51 L966.93,183.87 L968.19,185.22 L969.46,186.58 L970.73,187.95 L971.99,189.31 L973.26,190.68 L974.52,192.05 L975.79,193.42 L977.06,194.80 L978.32,196.17 L979.59,197.55 L980.85,198.93 L982.12,200.31 L983.39,201.69 L984.65,203.07 L985.92,204.46 L987.18,205.85 L988.45,207.23 L989.72,208.62 L990.98,210.01 L992.25,211.41 L993.51,212.80 L994.78,214.19 L996.05,215.59 L997.31,216.98 L998.58,218.38 L999.85,219.78 L1001.11,221.17 L1002.38,222.57 L1003.64,223.97 L1004.91,225.37 L1006.18,226.77 L1007.44,228.18 L1008.71,229.58 L1009.97,230.98 L1011.24,232.39 L1012.51,233.79 L1013.77,235.20 L1015.04,236.60 L1016.30,238.01 L1017.57,239.41 L1018.84,240.82 L1020.10,242.23 L1021.37,243.63 L1022.64,245.04 L1023.90,246.45 L1025.17,247.86 L1026.43,249.27 L1027.70,250.68 L1028.97,252.09 L1030.23,253.50 L1031.50,254.91 L1032.76,256.32 L1034.03,257.73 L1035.30,259.14 L1036.56,260.55 L1037.83,261.96 L1039.09,263.37 L1040.36,264.78 L1041.63,266.20 L1042.89,267.61 L1044.16,269.02 L1045.43,270.43 L1046.69,271.85 L1047.96,273.26 L1049.22,274.67 L1050.49,276.09 L1051.76,277.50 L1053.02,278.91 L1054.29,280.33 L1055.55,281.74 L1056.82,283.15 L1058.09,284.57 L1059.35,285.98 L1060.62,287.39 L1061.88,288.81 L1063.15,290.22 L1064.42,291.64 L1065.68,293.05 L1066.95,294.47 L1068.21,295.88 L1069.48,297.29 L1070.75,298.71 L1072.01,300.12 L1073.28,301.54 L1074.55,302.95 L1075.81,304.37 L1077.08,305.78 L1078.34,307.20 L1079.61,308.61 L1080.88,310.03 L1082.14,311.44 L1083.41,312.86 L1084.67,314.27 L1085.94,315.69 L1087.21,317.10 L1088.47,318.52 L1089.74,319.94 L1091.00,321.35 L1092.27,322.77 L1093.54,324.18 L1094.80,325.60 L1096.07,327.01 L1097.34,328.43 L1098.60,329.84 L1099.87,331.26 L1101.13,332.67 L1102.40,334.09 L1103.67,335.51 L1104.93,336.92 L1106.20,338.34 L1107.46,339.75 L1108.73,341.17 L1110.00,342.58 L1111.26,344.00 L1112.53,345.41 L1113.79,346.83 L1115.06,348.25 L1116.33,349.66 L1117.59,351.08 L1118.86,352.49 L1120.12,353.91 L1121.39,355.33 L1122.66,356.74 L1123.92,358.16 L1125.19,359.57 L1126.46,360.99 L1127.72,362.40 L1128.99,363.82 L1130.25,365.24 L1131.52,366.65 L1132.79,368.07 L1134.05,369.48 L1135.32,370.90 L1136.58,372.32 L1137.85,373.73 L1139.12,375.15 L1140.38,376.56 L1141.65,377.98 L1142.91,379.39 L1144.18,380.81 L1145.45,382.23 L1146.71,383.64 L1147.98,385.06 L1149.25,386.47 L1150.51,387.89 L1151.78,389.31 L1153.04,390.72 L1154.31,392.14 L1155.58,393.55 L1156.84,394.97 L1158.11,396.39 L1159.37,397.80" fill="none" stroke="#000" stroke-width="1.7" stroke-linejoin="round"/>
<path d="M654.20,87.56 L655.47,87.56 L656.73,87.56 L658.00,87.56 L659.26,87.56 L660.53,87.57 L661.80,87.57 L663.06,87.57 L664.33,87.57 L665.59,87.57 L666.86,87.57 L668.13,87.58 L669.39,87.58 L670.66,87.58 L671.93,87.58 L673.19,87.59 L674.46,87.59 L675.72,87.59 L676.99,87.59 L678.26,87.60 L679.52,87.60 L680.79,87.60 L682.05,87.61 L683.32,87.61 L684.59,87.61 L685.85,87.62 L687.12,87.62 L688.38,87.62 L689.65,87.63 L690.92,87.63 L692.18,87.64 L693.45,87.64 L694.72,87.65 L695.98,87.65 L697.25,87.66 L698.51,87.67 L699.78,87.67 L701.05,87.68 L702.31,87.69 L703.58,87.69 L704.84,87.70 L706.11,87.71 L707.38,87.72 L708.64,87.73 L709.91,87.74 L711.17,87.75 L712.44,87.76 L713.71,87.77 L714.97,87.78 L716.24,87.79 L717.51,87.80 L718.77,87.81 L720.04,87.83 L721.30,87.84 L722.57,87.86 L723.84,87.87 L725.10,87.89 L726.37,87.90 L727.63,87.92 L728.90,87.94 L730.17,87.96 L731.43,87.98 L732.70,88.00 L733.96,88.02 L735.23,88.05 L736.50,88.07 L737.76,88.10 L739.03,88.12 L740.29,88.15 L741.56,88.18 L742.83,88.21 L744.09,88.24 L745.36,88.27 L746.63,88.31 L747.89,88.35 L749.16,88.38 L750.42,88.42 L751.69,88.47 L752.96,88.51 L754.22,88.56 L755.49,88.60 L756.75,88.65 L758.02,88.71 L759.29,88.76 L760.55,88.82 L761.82,88.88 L763.08,88.94 L764.35,89.01 L765.62,89.08 L766.88,89.15 L768.15,89.22 L769.42,89.30 L770.68,89.38 L771.95,89.47 L773.21,89.56 L774.48,89.65 L775.75,89.75 L777.01,89.85 L778.28,89.96 L779.54,90.07 L780.81,90.19 L782.08,90.31 L783.34,90.43 L784.61,90.56 L785.87,90.70 L787.14,90.85 L788.41,91.00 L789.67,91.15 L790.94,91.31 L792.20,91.48 L793.47,91.66 L794.74,91.84 L796.00,92.03 L797.27,92.23 L798.54,92.44 L799.80,92.66 L801.07,92.88 L802.33,93.11 L803.60,93.36 L804.87,93.61 L806.13,93.87 L807.40,94.14 L808.66,94.42 L809.93,94.72 L811.20,95.02 L812.46,95.34 L813.73,95.66 L814.99,96.00 L816.26,96.35 L817.53,96.72 L818.79,97.09 L820.06,97.48 L821.33,97.88 L822.59,98.30 L823.86,98.73 L825.12,99.17 L826.39,99.63 L827.66,100.10 L828.92,100.59 L830.19,101.09 L831.45,101.61 L832.72,102.14 L833.99,102.69 L835.25,103.26 L836.52,103.84 L837.78,104.43 L839.05,105.05 L840.32,105.68 L841.58,106.32 L842.85,106.98 L844.12,107.66 L845.38,108.36 L846.65,109.07 L847.91,109.79 L849.18,110.54 L850.45,111.30 L851.71,112.08 L852.98,112.87 L854.24,113.68 L855.51,114.50 L856.78,115.35 L858.04,116.20 L859.31,117.08 L860.57,117.96 L861.84,118.87 L863.11,119.79 L864.37,120.72 L865.64,121.67 L866.90,122.63 L868.17,123.61 L869.44,124.60 L870.70,125.61 L871.97,126.63 L873.24,127.66 L874.50,128.70 L875.77,129.76 L877.03,130.83 L878.30,131.91 L879.57,133.01 L880.83,134.11 L882.10,135.23 L883.36,136.36 L884.63,137.49 L885.90,138.64 L887.16,139.80 L888.43,140.97 L889.69,142.14 L890.96,143.33 L892.23,144.52 L893.49,145.73 L894.76,146.94 L896.03,148.16 L897.29,149.39 L898.56,150.62 L899.82,151.87 L901.09,153.11 L902.36,154.37 L903.62,155.63 L904.89,156.90 L906.15,158.18 L907.42,159.46 L908.69,160.74 L909.95,162.04 L911.22,163.33 L912.48,164.63 L913.75,165.94 L915.02,167.25 L916.28,168.57 L917.55,169.89 L918.81,171.21 L920.08,172.54 L921.35,173.87 L922.61,175.21 L923.88,176.55 L925.15,177.89 L926.41,179.23 L927.68,180.58 L928.94,181.93 L930.21,183.29 L931.48,184.65 L932.74,186.00 L934.01,187.37 L935.27,188.73 L936.54,190.10 L937.81,191.47 L939.07,192.84 L940.34,194.21 L941.60,195.58 L942.87,196.96 L944.14,198.34 L945.40,199.72 L946.67,201.10 L947.94,202.48 L949.20,203.87 L950.47,205.26 L951.73,206.64 L953.00,208.03 L954.27,209.42 L955.53,210.81 L956.80,212.20 L958.06,213.60 L959.33,214.99 L960.60,216.39 L961.86,217.78 L963.13,219.18 L964.39,220.58 L965.66,221.98 L966.93,223.38 L968.19,224.78 L969.46,226.18 L970.73,227.58 L971.99,228.98 L973.26,230.38 L974.52,231.79 L975.79,233.19 L977.06,234.60 L978.32,236.00 L979.59,237.41 L980.85,238.81 L982.12,240.22 L983.39,241.63 L984.65,243.03 L985.92,244.44 L987.18,245.85 L988.45,247.26 L989.72,248.67 L990.98,250.08 L992.25,251.49 L993.51,252.90 L994.78,254.31 L996.05,255.72 L997.31,257.13 L998.58,258.54 L999.85,259.95 L1001.11,261.36 L1002.38,262.77 L1003.64,264.18 L1004.91,265.60 L1006.18,267.01 L1007.44,268.42 L1008.71,269.83 L1009.97,271.24 L1011.24,272.66 L1012.51,274.07 L1013.77,275.48 L1015.04,276.90 L1016.30,278.31 L1017.57,279.72 L1018.84,281.14 L1020.10,282.55 L1021.37,283.96 L1022.64,285.38 L1023.90,286.79 L1025.17,288.21 L1026.43,289.62 L1027.70,291.03 L1028.97,292.45 L1030.23,293.86 L1031.50,295.28 L1032.76,296.69 L1034.03,298.11 L1035.30,299.52 L1036.56,300.94 L1037.83,302.35 L1039.09,303.77 L1040.36,305.18 L1041.63,306.60 L1042.89,308.01 L1044.16,309.43 L1045.43,310.84 L1046.69,312.26 L1047.96,313.67 L1049.22,315.09 L1050.49,316.50 L1051.76,317.92 L1053.02,319.33 L1054.29,320.75 L1055.55,322.16 L1056.82,323.58 L1058.09,324.99 L1059.35,326.41 L1060.62,327.82 L1061.88,329.24 L1063.15,330.66 L1064.42,332.07 L1065.68,333.49 L1066.95,334.90 L1068.21,336.32 L1069.48,337.73 L1070.75,339.15 L1072.01,340.56 L1073.28,341.98 L1074.55,343.40 L1075.81,344.81 L1077.08,346.23 L1078.34,347.64 L1079.61,349.06 L1080.88,350.47 L1082.14,351.89 L1083.41,353.31 L1084.67,354.72 L1085.94,356.14 L1087.21,357.55 L1088.47,358.97 L1089.74,360.39 L1091.00,361.80 L1092.27,363.22 L1093.54,364.63 L1094.80,366.05 L1096.07,367.46 L1097.34,368.88 L1098.60,370.30 L1099.87,371.71 L1101.13,373.13 L1102.40,374.54 L1103.67,375.96 L1104.93,377.38 L1106.20,378.79 L1107.46,380.21 L1108.73,381.62 L1110.00,383.04 L1111.26,384.46 L1112.53,385.87 L1113.79,387.29 L1115.06,388.70 L1116.33,390.12 L1117.59,391.53 L1118.86,392.95 L1120.12,394.37 L1121.39,395.78 L1122.66,397.20 L1123.92,398.61 L1125.19,400.03 L1126.46,401.45 L1127.72,402.86 L1128.99,404.28 L1130.25,405.69 L1131.52,407.11 L1132.79,408.53 L1134.05,409.94 L1135.32,411.36 L1136.58,412.77 L1137.85,414.19 L1139.12,415.61 L1140.38,417.02 L1141.65,418.44 L1142.91,419.85 L1144.18,421.27 L1145.45,422.69 L1146.71,424.10 L1147.98,425.52 L1149.25,426.93 L1150.51,428.35 L1151.78,429.77 L1153.04,431.18 L1154.31,432.60 L1155.58,434.01 L1155.65,434.10" fill="none" stroke="#6552bf" stroke-width="1.7" stroke-linejoin="round"/>
<circle cx="1118.70" cy="202.09" r="2.3" fill="#d95f02"/>
<circle cx="1118.70" cy="282.42" r="2.3" fill="#1a8c1a"/>
<circle cx="1118.70" cy="352.32" r="2.3" fill="#000"/>
<circle cx="1118.70" cy="392.77" r="2.3" fill="#6552bf"/></g>
<g font-family="Liberation Sans, sans-serif" font-size="14" fill="#111">
<text x="651" letter-spacing="1" y="92.0" text-anchor="end">0</text>
<text x="651" letter-spacing="1" y="127.0" text-anchor="end">-5</text>
<text x="651" letter-spacing="1" y="161.9" text-anchor="end">-10</text>
<text x="651" letter-spacing="1" y="196.8" text-anchor="end">-15</text>
<text x="651" letter-spacing="1" y="231.8" text-anchor="end">-20</text>
<text x="651" letter-spacing="1" y="266.8" text-anchor="end">-25</text>
<text x="651" letter-spacing="1" y="301.7" text-anchor="end">-30</text>
<text x="651" letter-spacing="1" y="336.6" text-anchor="end">-35</text>
<text x="651" letter-spacing="1" y="371.6" text-anchor="end">-40</text>
<text x="651" letter-spacing="1" y="406.5" text-anchor="end">-45</text>
<text x="651" letter-spacing="1" y="441.5" text-anchor="end">-50</text>
<text x="653.8" y="452" text-anchor="middle">10</text>
<text x="779" y="452" text-anchor="middle">100</text>
<text x="904" y="452" text-anchor="middle">1K</text>
<text x="1028.8" y="452" text-anchor="middle">10K</text>
<text x="1146" y="452" text-anchor="middle">100K</text>
</g>
<text x="881.7" y="470.3" text-anchor="middle" font-family="Liberation Sans, sans-serif" font-size="15" letter-spacing="0.55" fill="#222">frequency [Hz]</text>
<text transform="translate(618,268.9) rotate(-90)" text-anchor="middle" font-family="Liberation Sans, sans-serif" font-size="14" letter-spacing="0.35" fill="#222">amplitude [dB]</text>


<g font-family="Liberation Sans, sans-serif">
<rect x="210.5" y="419.3" width="262" height="8" rx="4" fill="#f3f3f3" stroke="#d9d9d9" stroke-width="1"/>
<line x1="211.5" y1="431.2" x2="211.5" y2="439.5" stroke="#777" stroke-width="1.2"/>
<line x1="237.5" y1="431.5" x2="237.5" y2="435.2" stroke="#b0b0b0" stroke-width="1"/>
<line x1="263.5" y1="431.5" x2="263.5" y2="435.2" stroke="#b0b0b0" stroke-width="1"/>
<line x1="289.5" y1="431.5" x2="289.5" y2="435.2" stroke="#b0b0b0" stroke-width="1"/>
<line x1="315.5" y1="431.5" x2="315.5" y2="435.2" stroke="#b0b0b0" stroke-width="1"/>
<line x1="341.5" y1="431.2" x2="341.5" y2="439.5" stroke="#777" stroke-width="1.2"/>
<line x1="367.5" y1="431.5" x2="367.5" y2="435.2" stroke="#b0b0b0" stroke-width="1"/>
<line x1="393.5" y1="431.5" x2="393.5" y2="435.2" stroke="#b0b0b0" stroke-width="1"/>
<line x1="420.5" y1="431.5" x2="420.5" y2="435.2" stroke="#b0b0b0" stroke-width="1"/>
<line x1="446.5" y1="431.5" x2="446.5" y2="435.2" stroke="#b0b0b0" stroke-width="1"/>
<line x1="472.5" y1="431.2" x2="472.5" y2="439.5" stroke="#777" stroke-width="1.2"/>
<text x="211.2" y="452.8" text-anchor="middle" font-size="9" fill="#333">0</text>
<text x="341.4" y="452.8" text-anchor="middle" font-size="9" fill="#333">5</text>
<text x="471.6" y="452.8" text-anchor="middle" font-size="9" fill="#333">10</text>
<rect x="196.7" y="416.7" width="29" height="14.6" rx="3" fill="#0b7ad6" stroke="#0b5fae" stroke-width="1"/>
<path d="M210.0,420.3 V427.3 M212.4,420.3 V427.3" stroke="#1d3c5c" stroke-width="1"/>
<rect x="210.5" y="476.3" width="262" height="8" rx="4" fill="#f3f3f3" stroke="#d9d9d9" stroke-width="1"/>
<line x1="211.5" y1="488.2" x2="211.5" y2="496.5" stroke="#777" stroke-width="1.2"/>
<line x1="237.5" y1="488.5" x2="237.5" y2="492.2" stroke="#b0b0b0" stroke-width="1"/>
<line x1="263.5" y1="488.5" x2="263.5" y2="492.2" stroke="#b0b0b0" stroke-width="1"/>
<line x1="289.5" y1="488.5" x2="289.5" y2="492.2" stroke="#b0b0b0" stroke-width="1"/>
<line x1="315.5" y1="488.5" x2="315.5" y2="492.2" stroke="#b0b0b0" stroke-width="1"/>
<line x1="341.5" y1="488.2" x2="341.5" y2="496.5" stroke="#777" stroke-width="1.2"/>
<line x1="367.5" y1="488.5" x2="367.5" y2="492.2" stroke="#b0b0b0" stroke-width="1"/>
<line x1="393.5" y1="488.5" x2="393.5" y2="492.2" stroke="#b0b0b0" stroke-width="1"/>
<line x1="420.5" y1="488.5" x2="420.5" y2="492.2" stroke="#b0b0b0" stroke-width="1"/>
<line x1="446.5" y1="488.5" x2="446.5" y2="492.2" stroke="#b0b0b0" stroke-width="1"/>
<line x1="472.5" y1="488.2" x2="472.5" y2="496.5" stroke="#777" stroke-width="1.2"/>
<text x="211.2" y="509.8" text-anchor="middle" font-size="9" fill="#333">0</text>
<text x="341.4" y="509.8" text-anchor="middle" font-size="9" fill="#333">5</text>
<text x="471.6" y="509.8" text-anchor="middle" font-size="9" fill="#333">10</text>
<rect x="457.1" y="473.7" width="29" height="14.6" rx="3" fill="#0b7ad6" stroke="#0b5fae" stroke-width="1"/>
<path d="M470.4,477.3 V484.3 M472.8,477.3 V484.3" stroke="#1d3c5c" stroke-width="1"/>
</g>

</svg>
</body></html>
